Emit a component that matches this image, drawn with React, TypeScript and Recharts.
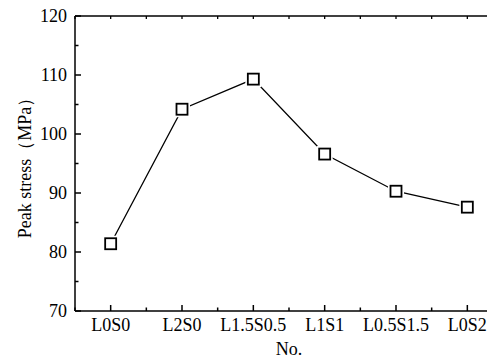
import { LineChart, Line, XAxis, YAxis } from "recharts";

const categories = ["L0S0", "L2S0", "L1.5S0.5", "L1S1", "L0.5S1.5", "L0S2"];
const peakStress = [81.4, 104.2, 109.3, 96.6, 90.3, 87.6];
const yTicks = [70, 75, 80, 85, 90, 95, 100, 105, 110, 115, 120];
const xTicks = [-0.5, 0, 0.5, 1, 1.5, 2, 2.5, 3, 3.5, 4, 4.5, 5, 5.5];

const data = categories.map((name, i) => ({ idx: i, name, value: peakStress[i] }));

const FONT = "Liberation Serif";
const txt = { fontFamily: FONT, fontSize: 18, fill: "#000" };

// ticks point inwards, minor ones shorter
const YTick = (props: any) => {
  const { x, y, payload } = props;
  const major = payload.value % 10 === 0;
  return (
    <g>
      <path d={`M${x},${y}h${major ? 6 : 3.5}`} stroke="#000" strokeWidth={1.5} fill="none" />
      {major && (
        <text x={x - 8} y={y} dy="0.35em" textAnchor="end" style={txt}>
          {payload.value}
        </text>
      )}
    </g>
  );
};

const XTick = (props: any) => {
  const { x, y, payload } = props;
  const major = Number.isInteger(payload.value);
  return (
    <g>
      <path d={`M${x},${y}v${major ? -6 : -3.5}`} stroke="#000" strokeWidth={1.5} fill="none" />
      {major && (
        <text x={x} y={y + 20} textAnchor="middle" style={txt}>
          {categories[payload.value]}
        </text>
      )}
    </g>
  );
};

const TopTick = (props: any) => {
  const { x, y } = props;
  return <path d={`M${x},${y}v3`} stroke="#000" strokeWidth={1.3} fill="none" />;
};

const SquareDot = (props: any) => {
  const { cx, cy } = props;
  if (cx == null || cy == null) return null;
  return (
    <g>
      <rect x={cx - 8} y={cy - 8} width={16} height={16} fill="#fff" />
      <rect x={cx - 5.5} y={cy - 5.5} width={11} height={11} fill="#fff" stroke="#000" strokeWidth={1.8} />
    </g>
  );
};

export default function App() {
  return (
    <div
      style={{
        width: 487,
        height: 359,
        marginTop: -8,
        overflow: "hidden",
        position: "relative",
        fontFamily: FONT,
      }}
    >
      <LineChart
        width={495}
        height={359}
        data={data}
        margin={{ top: 15, right: 0, bottom: 0, left: 0 }}
        style={{ fontFamily: FONT }}
      >
        <XAxis
          dataKey="idx"
          type="number"
          domain={[-0.5, 5.5]}
          ticks={xTicks}
          interval={0}
          tickSize={0}
          tickMargin={0}
          tickLine={false}
          tick={<XTick />}
          height={48}
          axisLine={{ stroke: "#000", strokeWidth: 1.5 }}
          label={{ value: "No.", position: "insideBottom", offset: 4, style: txt }}
        />
        <XAxis
          xAxisId="top"
          orientation="top"
          dataKey="idx"
          type="number"
          domain={[-0.5, 5.5]}
          ticks={xTicks}
          interval={0}
          tickSize={0}
          tickMargin={0}
          tickLine={false}
          tick={<TopTick />}
          height={1}
          axisLine={{ stroke: "#000", strokeWidth: 1.5 }}
        />
        <YAxis
          type="number"
          domain={[70, 120]}
          ticks={yTicks}
          interval={0}
          width={67}
          tickSize={0}
          tickMargin={0}
          tickLine={false}
          tick={<YTick />}
          axisLine={{ stroke: "#000", strokeWidth: 1.5 }}
          label={{
            value: "Peak stress（MPa）",
            angle: -90,
            position: "insideLeft",
            offset: 17,
            style: { ...txt, textAnchor: "middle" },
          }}
        />
        {/* invisible copy so the top frame axis gets a scale */}
        <Line
          xAxisId="top"
          type="linear"
          dataKey="value"
          stroke="none"
          dot={false}
          activeDot={false}
          isAnimationActive={false}
        />
        <Line
          type="linear"
          dataKey="value"
          stroke="#000"
          strokeWidth={1.3}
          dot={<SquareDot />}
          activeDot={false}
          isAnimationActive={false}
        />
      </LineChart>
    </div>
  );
}
